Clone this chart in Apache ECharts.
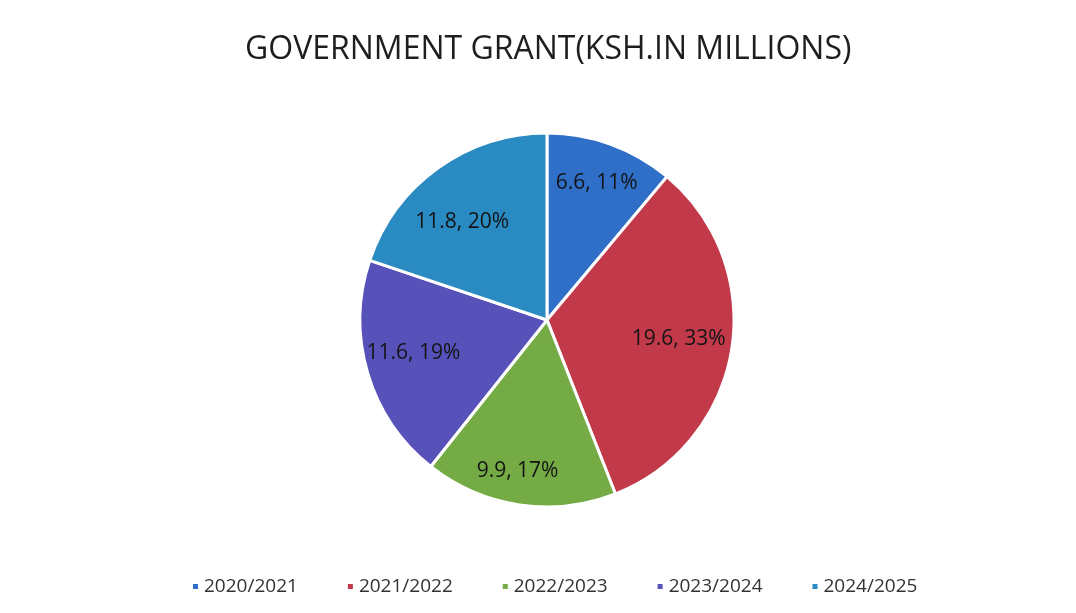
<!DOCTYPE html>
<html><head><meta charset="utf-8">
<style>html,body{margin:0;padding:0;background:#fff}#c{width:1076px;height:613px}</style>
<script src="https://cdn.jsdelivr.net/npm/echarts@6/dist/echarts.min.js"></script>
</head><body><div id="c"></div>
<script>
const categories = ['2020/2021','2021/2022','2022/2023','2023/2024','2024/2025'];
const values = [6.6, 19.6, 9.9, 11.6, 11.8];
const colors = ['#2f6fc8','#c23a4a','#74ab45','#5652ba','#2a8ac2'];
const labelOffsets = [[0,0],[-12,-4],[-8,7],[6,-8],[0,20]];
const titleText = 'GOVERNMENT GRANT(KSH.IN MILLIONS)';

const chart = echarts.init(document.getElementById('c'));
const data = categories.map((n,i)=>({name:n,value:values[i],itemStyle:{color:colors[i]}}));
chart.setOption({
  animation:false,
  title:{text:titleText,left:240,top:29,textStyle:{fontFamily:'Open Sans',fontSize:32,fontWeight:'normal',color:'#1e1e1e'}},
  legend:{bottom:12,left:186,itemWidth:7,itemHeight:7,itemGap:48,icon:'rect',
    textStyle:{fontFamily:'Open Sans',fontSize:19,color:'#333'},data:categories},
  series:[
    {type:'pie',center:[547,320],radius:[0,187],startAngle:90,clockwise:true,
     itemStyle:{borderColor:'#fff',borderWidth:3},label:{show:false},labelLine:{show:false},
     emphasis:{disabled:true},data:data},
    {type:'pie',center:[547,320],radius:[98,187],startAngle:90,clockwise:true,silent:true,
     percentPrecision:0,
     itemStyle:{color:'rgba(0,0,0,0)',borderWidth:0},
     label:{show:true,position:'inside',formatter:'{c}, {d}%',fontFamily:'Open Sans',fontSize:21,color:'#141414'},
     labelLine:{show:false},legendHoverLink:false,
     data:categories.map((n,i)=>({name:n+' ',value:values[i],label:{offset:labelOffsets[i]}}))}
  ]
});
</script></body></html>
